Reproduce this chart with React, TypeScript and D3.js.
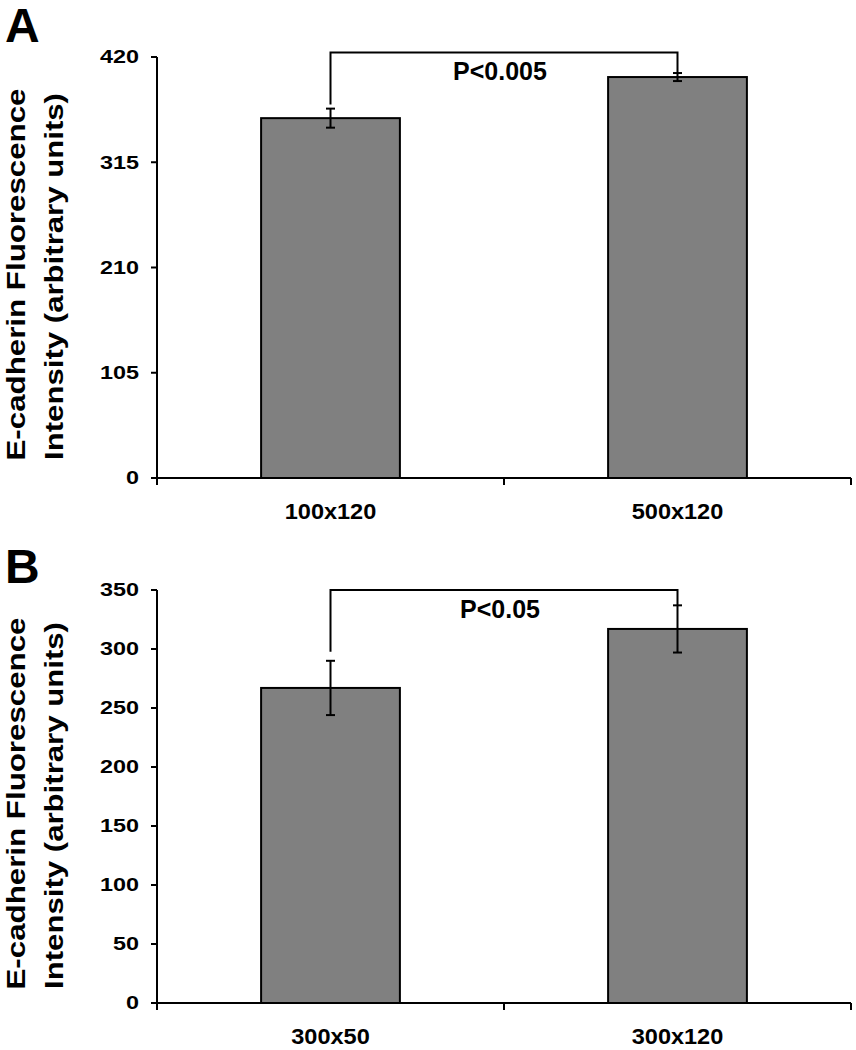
import React from 'react';
import * as d3 from 'd3';

// ---------- data ----------
const panelACategories = ['100x120', '500x120'];
const panelAValues = [359, 400];
const panelAErrors = [9.5, 4];
const panelATicks = [0, 105, 210, 315, 420];
const panelAP = 'P<0.005';

const panelBCategories = ['300x50', '300x120'];
const panelBValues = [267, 317];
const panelBErrors = [23, 20];
const panelBTicks = [0, 50, 100, 150, 200, 250, 300, 350];
const panelBP = 'P<0.05';

const yLabel1 = 'E-cadherin Fluorescence';
const yLabel2 = 'Intensity (arbitrary units)';

const FONT = '"Liberation Sans", Arial, Helvetica, sans-serif';

type PanelProps = {
  letter: string;
  letterY: number;
  categories: string[];
  values: number[];
  errors: number[];
  ticks: number[];
  yTop: number;
  yBottom: number;
  bracketValue: number;
  leftGap: number;
  pLabel: string;
};

function Panel(p: PanelProps) {
  const x0 = 157;
  const x1 = 851;
  const yMax = p.ticks[p.ticks.length - 1];
  const y = d3.scaleLinear().domain([0, yMax]).range([p.yBottom, p.yTop]);
  const x = d3
    .scaleBand<string>()
    .domain(p.categories)
    .range([x0, x1])
    .paddingInner(0.6)
    .paddingOuter(0.3);
  const step = x.step();
  const bw = x.bandwidth();
  const centers = p.categories.map((c) => (x(c) as number) + bw / 2);
  const boundaries = [0, 1, 2].map((i) => x0 + i * step);
  const bracketY = y(p.bracketValue);
  const leftEnd = y(p.values[0] + p.errors[0]) - p.leftGap;
  const rightEnd = y(p.values[1] + p.errors[1]);
  const midY = (p.yTop + p.yBottom) / 2 + 7;
  const capW = 4.5;
  const sw = 2;
  return (
    <g>
      <text x={5} y={p.letterY} fontFamily={FONT} fontWeight="bold" fontSize={48} fill="#000">
        {p.letter}
      </text>
      {/* y label */}
      <g transform={`translate(25,${midY}) rotate(-90)`}>
        <text
          x={0}
          y={0}
          textAnchor="middle"
          fontFamily={FONT}
          fontWeight="bold"
          fontSize={25}
          textLength={372}
          lengthAdjust="spacingAndGlyphs"
        >
          {yLabel1}
        </text>
      </g>
      <g transform={`translate(63,${midY + 2}) rotate(-90)`}>
        <text
          x={0}
          y={0}
          textAnchor="middle"
          fontFamily={FONT}
          fontWeight="bold"
          fontSize={25}
          textLength={367}
          lengthAdjust="spacingAndGlyphs"
        >
          {yLabel2}
        </text>
      </g>
      {/* bars */}
      {p.categories.map((c, i) => (
        <rect
          key={c}
          x={x(c)}
          y={y(p.values[i])}
          width={bw}
          height={y(0) - y(p.values[i])}
          fill="#808080"
          stroke="#000"
          strokeWidth={sw}
        />
      ))}
      {/* error bars */}
      {p.categories.map((c, i) => {
        const cx = centers[i];
        const t = y(p.values[i] + p.errors[i]);
        const b = y(p.values[i] - p.errors[i]);
        return (
          <g key={c + 'e'} stroke="#000" strokeWidth={sw}>
            <line x1={cx} x2={cx} y1={t} y2={b} />
            <line x1={cx - capW} x2={cx + capW} y1={t} y2={t} />
            <line x1={cx - capW} x2={cx + capW} y1={b} y2={b} />
          </g>
        );
      })}
      {/* y axis */}
      <line x1={x0} x2={x0} y1={p.yTop} y2={p.yBottom} stroke="#000" strokeWidth={sw} />
      {p.ticks.map((t) => (
        <g key={t}>
          <line x1={x0 - 6} x2={x0} y1={y(t)} y2={y(t)} stroke="#000" strokeWidth={sw} />
          <g transform={`translate(139,${y(t)}) scale(1.3,1)`}>
            <text
              x={0}
              y={0}
              dy="0.36em"
              textAnchor="end"
              fontFamily={FONT}
              fontWeight="bold"
              fontSize={18}
            >
              {t}
            </text>
          </g>
        </g>
      ))}
      {/* x axis */}
      <line x1={x0 - 6} x2={x1} y1={p.yBottom} y2={p.yBottom} stroke="#000" strokeWidth={sw} />
      {boundaries.map((bx, i) => (
        <line key={i} x1={bx} x2={bx} y1={p.yBottom} y2={p.yBottom + 7} stroke="#000" strokeWidth={sw} />
      ))}
      {p.categories.map((c, i) => (
        <g key={c + 'l'} transform={`translate(${centers[i]},${p.yBottom + 41}) scale(1.07,1)`}>
          <text x={0} y={0} textAnchor="middle" fontFamily={FONT} fontWeight="bold" fontSize={22}>
            {c}
          </text>
        </g>
      ))}
      {/* significance bracket */}
      <path
        d={`M${centers[0]},${leftEnd} L${centers[0]},${bracketY} L${centers[1]},${bracketY} L${centers[1]},${rightEnd}`}
        fill="none"
        stroke="#000"
        strokeWidth={sw}
      />
      <text
        x={500}
        y={bracketY + 28}
        textAnchor="middle"
        fontFamily={FONT}
        fontWeight="bold"
        fontSize={25}
      >
        {p.pLabel}
      </text>
    </g>
  );
}

export default function App() {
  return (
    <div style={{ position: 'absolute', left: 0, top: 0 }}>
      <svg width={856} height={1050} style={{ display: 'block', background: '#fff' }}>
        <rect x={0} y={0} width={856} height={1050} fill="#fff" />
        <Panel
          letter="A"
          letterY={42}
          categories={panelACategories}
          values={panelAValues}
          errors={panelAErrors}
          ticks={panelATicks}
          yTop={57}
          yBottom={478}
          bracketValue={424.5}
          leftGap={4}
          pLabel={panelAP}
        />
        <Panel
          letter="B"
          letterY={583}
          categories={panelBCategories}
          values={panelBValues}
          errors={panelBErrors}
          ticks={panelBTicks}
          yTop={590}
          yBottom={1003}
          bracketValue={350}
          leftGap={9}
          pLabel={panelBP}
        />
      </svg>
    </div>
  );
}
